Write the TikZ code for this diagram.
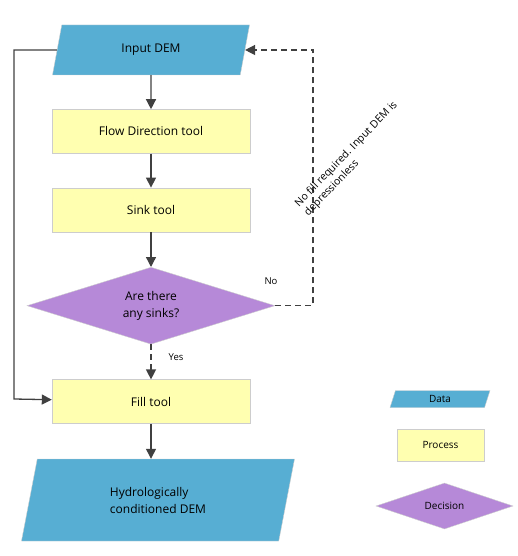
\documentclass[tikz,border=0pt]{standalone}
\usepackage{fontspec}
\setmainfont{Open Sans}
\usepackage{tikz}
\usetikzlibrary{arrows.meta, positioning, shapes.geometric}
\definecolor{skyblue}{RGB}{87,174,211}
\definecolor{paleyellow}{RGB}{255,255,176}
\definecolor{lilac}{RGB}{182,137,216}
\definecolor{edgegray}{RGB}{205,205,205}
\definecolor{darkline}{RGB}{64,64,64}

\begin{document}
\begin{tikzpicture}[
        x=1pt, y=-1pt,
        node distance=34pt and 30pt,
        process/.style={rectangle, draw=edgegray, fill=paleyellow, minimum width=198pt, minimum height=44pt, font=\fontsize{12}{17}\selectfont},
        data/.style={trapezium, trapezium left angle=51, trapezium right angle=129, trapezium stretches body, draw=edgegray, fill=skyblue, minimum width=197pt, minimum height=50pt, inner sep=0pt, font=\fontsize{12}{17}\selectfont},
        decision/.style={diamond, aspect=3.2, draw=edgegray, fill=lilac, minimum width=248pt, minimum height=77pt, inner sep=0pt, align=center, font=\fontsize{12}{17}\selectfont},
        arrow/.style={-{Triangle[length=10pt, width=10pt]}, line width=1.3pt, darkline},
        dasharrow/.style={arrow, dash pattern=on 6pt off 4pt},
        edgetext/.style={font=\fontsize{9.5}{12}\selectfont}
    ]
        \useasboundingbox (0,0) rectangle (518,556);

        \node[data] (indem) at (151,50) {Input DEM};
        \node[process, below=of indem] (flowdir) {Flow Direction tool};
        \node[process, below=of flowdir] (sink) {Sink tool};
        \node[decision, below=35pt of sink] (anysinks) {Are there\\any sinks?};
        \node[process, below=35pt of anysinks] (fill) {Fill tool};
        \node[data, below=35pt of fill, xshift=7pt, trapezium left angle=59, trapezium right angle=121, minimum width=273pt, minimum height=82pt, align=left] (hydro) {Hydrologically\\conditioned DEM};

        % legend
        \node[data, trapezium left angle=53, trapezium right angle=127, minimum width=100pt, minimum height=17pt, font=\fontsize{10}{12}\selectfont] (legdata) at (440,399) {Data};
        \node[process, minimum width=87pt, minimum height=32pt, font=\fontsize{10}{12}\selectfont] (legprocess) at (440.5,445) {Process};
        \node[decision, aspect=3, minimum width=137pt, minimum height=46pt, font=\fontsize{10}{12}\selectfont] (legdecision) at (444.5,506) {Decision};

        \coordinate (leftturn) at (14,399);
        \coordinate (noturn) at (313,50);

        \draw[arrow] (indem) -- (flowdir);
        \draw[arrow] (flowdir) -- (sink);
        \draw[arrow] (sink) -- (anysinks);
        \draw[dasharrow] (anysinks) -- (fill);
        \draw[arrow] (fill) -- (fill.south |- hydro.north);
        \draw[arrow] (indem.left side) -| (leftturn) -- (fill);
        \draw[dasharrow] (anysinks.east) -| (noturn) -- (indem.right side);

        \node[edgetext] (yes) at (176,357) {Yes};
        \node[edgetext] (no) at (271,281) {No};
        \node[edgetext, font=\fontsize{10.5}{13}\selectfont, rotate=46, align=left] (nofill) at (351,159) {No fill required. Input DEM is\\depressionless};
    \end{tikzpicture}
\end{document}
